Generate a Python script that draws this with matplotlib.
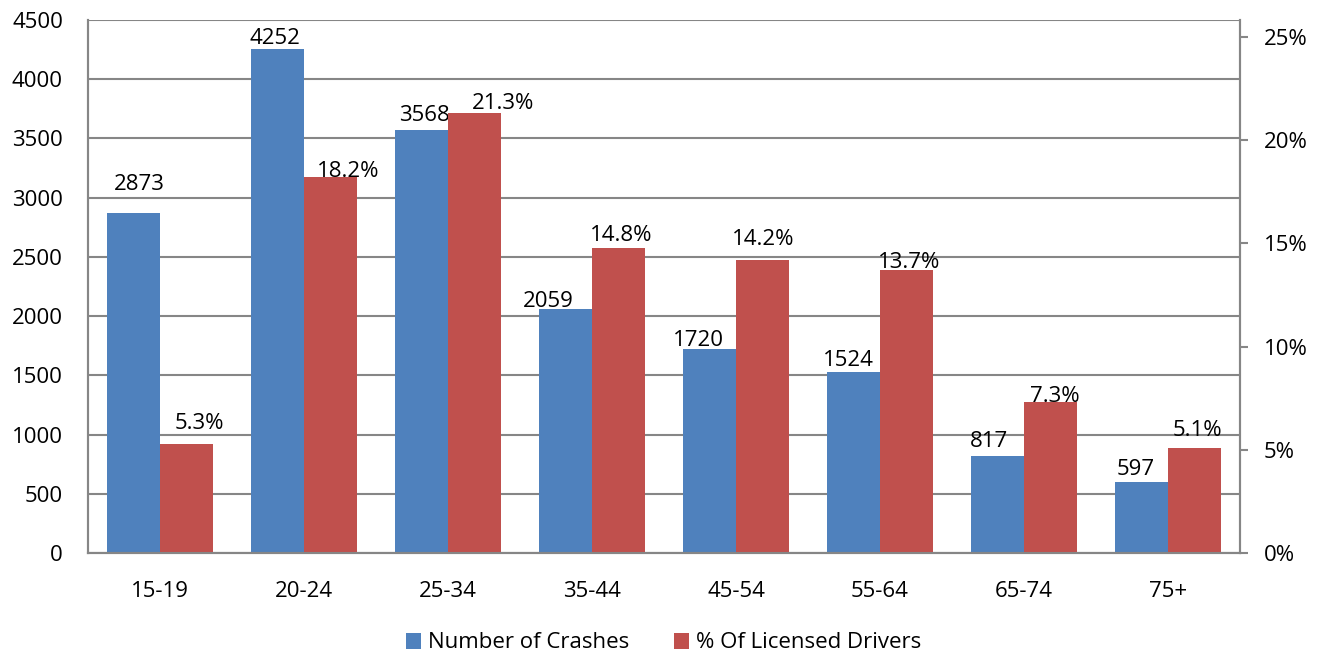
import matplotlib.pyplot as plt
import numpy as np
from matplotlib.ticker import FuncFormatter

plt.rcParams['font.family'] = ['Open Sans', 'DejaVu Sans']

ages = ['15-19', '20-24', '25-34', '35-44', '45-54', '55-64', '65-74', '75+']
crashes = [2873, 4252, 3568, 2059, 1720, 1524, 817, 597]
pct_drivers = [5.3, 18.2, 21.3, 14.8, 14.2, 13.7, 7.3, 5.1]

# label nudges in pixels (Excel labels were dragged by hand)
crash_dx = [6, -3, 3, -17, -11, -5, -9, -6]
crash_dy = [28, 11, 15, 8, 9, 12, 15, 13]
pct_dx = [13, 18, 29, 3, 1, 3, 4, 3]
pct_dy = [20, 6, 10, 12, 20, 8, 6, 17]

blue = '#4f81bd'
red = '#c0504d'
grid_col = '#868686'
fs = 16

fig = plt.figure(figsize=(13.27, 6.58), dpi=100)
ax = fig.add_axes([88 / 1327, 1 - 553 / 658, 1152 / 1327, 533 / 658])
ax2 = ax.twinx()

x = np.arange(len(ages))
w = 0.368
b1 = ax.bar(x - w / 2, crashes, w, color=blue, label='Number of Crashes', zorder=2)
b2 = ax2.bar(x + w / 2, pct_drivers, w, color=red, label='% Of Licensed Drivers', zorder=2)

ax.set_xlim(-0.5, len(ages) - 0.5)
ax.set_ylim(0, 4500)
ax.set_yticks(np.arange(0, 4501, 500))
# secondary axis tops out a bit above 25% (as in the Excel original)
ax2.set_ylim(0, 25 * 533 / 516)
ax2.set_yticks(np.arange(0, 26, 5))
ax2.yaxis.set_major_formatter(FuncFormatter(lambda v, p: '%d%%' % v))

ax.yaxis.grid(True, color=grid_col, lw=1.5, zorder=0)
ax.set_axisbelow(True)
ax.set_xticks(x)
ax.set_xticklabels(ages)
ax.tick_params(axis='x', length=0, pad=20, labelsize=fs)
ax.tick_params(axis='y', length=0, pad=18, labelsize=fs)
ax2.tick_params(axis='y', length=6, width=1.5, color=grid_col, pad=11, labelsize=fs)

for a in (ax, ax2):
    a.spines['top'].set_visible(False)
    for s in ('left', 'right', 'bottom'):
        a.spines[s].set_color(grid_col)
        a.spines[s].set_linewidth(1.5)

for r, v, dx, dy in zip(b1, crashes, crash_dx, crash_dy):
    ax.annotate(str(v), (r.get_x() + r.get_width() / 2, v), xytext=(dx * 0.72, dy * 0.72),
                textcoords='offset points', ha='center', va='center', fontsize=fs)
for r, v, dx, dy in zip(b2, pct_drivers, pct_dx, pct_dy):
    ax2.annotate('%.1f%%' % v, (r.get_x() + r.get_width() / 2, v), xytext=(dx * 0.72, dy * 0.72),
                 textcoords='offset points', ha='center', va='center', fontsize=fs)

fig.legend(handles=[b1, b2], loc='center', bbox_to_anchor=(0.5, 1 - 643 / 658), ncol=2,
           frameon=False, fontsize=fs, handlelength=0.7, handleheight=0.7,
           handletextpad=0.3, columnspacing=2.0)

fig.savefig('out.png', dpi=100)
